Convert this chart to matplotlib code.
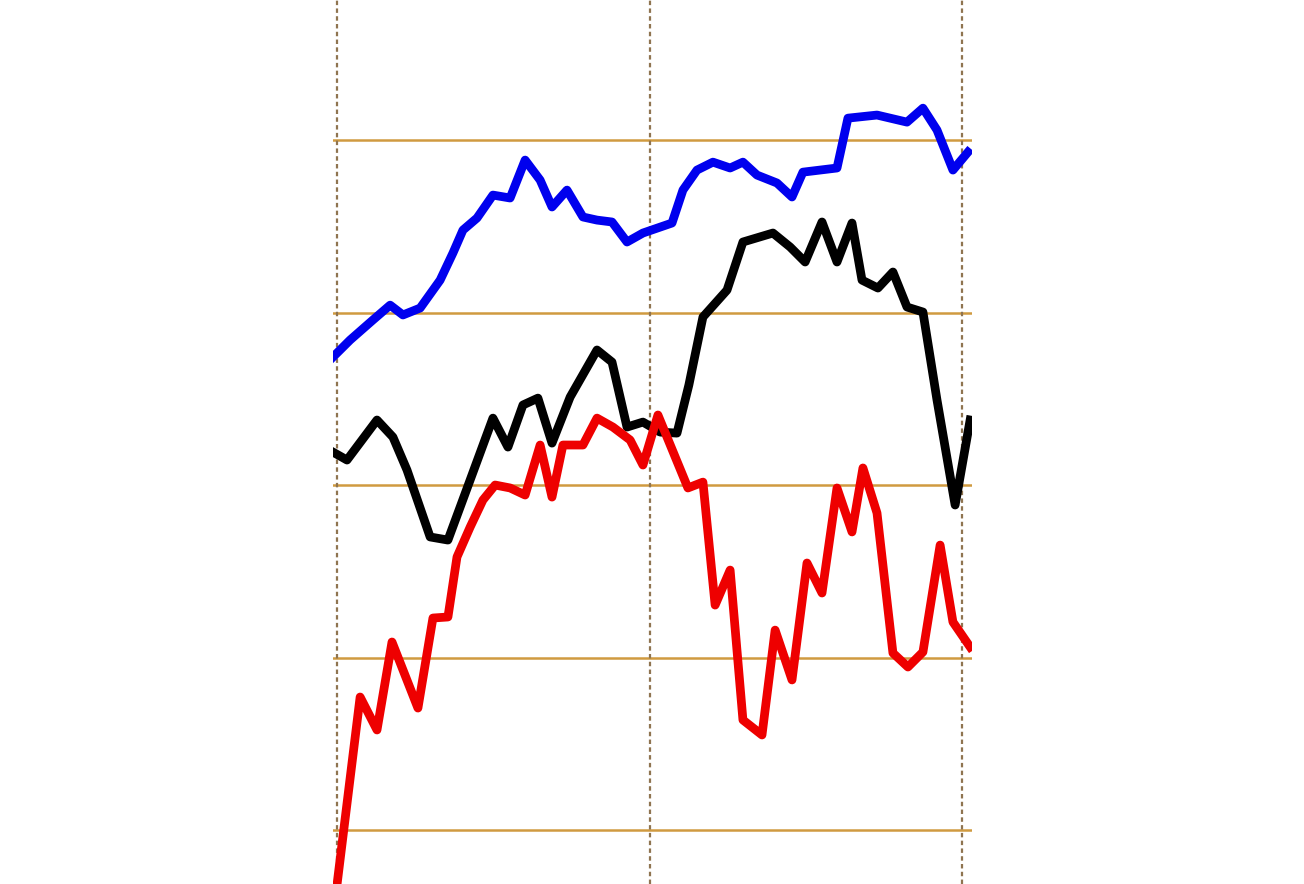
import matplotlib
matplotlib.use("Agg")
import matplotlib.pyplot as plt

# values (x: 0..200 between the dotted lines, y: 0..400 between the solid lines)
blue_x = [-1.3, 4.2, 11.5, 17.0, 21.1, 26.6, 33.0, 37.1, 40.3, 44.8, 49.9, 55.4, 60.2, 65.0,
          68.8, 73.6, 78.7, 83.2, 88.0, 92.8, 97.9, 107.2, 110.7, 115.2, 120.3, 125.8, 129.9,
          134.4, 140.8, 145.6, 149.1, 160.0, 163.5, 172.8, 182.4, 187.5, 192.0, 197.1, 201.9]
blue_y = [274.2, 284.1, 295.7, 304.3, 298.6, 302.6, 318.8, 334.5, 347.8, 354.8, 368.1, 366.4,
          388.4, 376.8, 361.2, 371.0, 355.4, 353.6, 352.5, 340.9, 346.1, 351.9, 371.0, 382.6,
          387.2, 383.8, 387.2, 379.7, 375.1, 367.0, 381.4, 383.8, 412.7, 414.5, 410.4, 418.5,
          405.8, 382.6, 393.0]

black_x = [-1.3, 3.2, 12.8, 17.9, 22.4, 29.8, 35.5, 42.6, 49.9, 54.7, 59.5, 64.3, 68.8, 74.6,
           83.2, 88.0, 92.8, 97.9, 103.4, 108.8, 112.6, 117.1, 124.8, 129.9, 139.5, 145.0,
           149.8, 155.2, 160.0, 164.8, 168.0, 173.1, 177.9, 182.4, 187.5, 192.0, 197.8, 202.6]
black_y = [219.1, 214.5, 237.7, 227.8, 208.7, 169.9, 168.1, 202.9, 238.8, 222.0, 246.4, 250.4,
           224.3, 251.0, 278.3, 271.3, 233.6, 236.5, 230.7, 230.1, 258.0, 297.4, 313.0, 340.9,
           346.1, 338.0, 329.3, 352.5, 329.3, 351.9, 318.8, 314.2, 323.5, 303.2, 300.3, 249.3,
           188.4, 237.7]

red_x = [-0.6, 7.4, 12.8, 17.6, 25.9, 30.7, 35.5, 38.4, 42.6, 46.7, 50.6, 55.4, 60.2, 65.0,
         68.8, 72.3, 78.7, 83.2, 88.3, 93.8, 97.9, 102.7, 112.3, 117.1, 121.0, 125.8, 129.9,
         136.0, 140.2, 145.6, 150.4, 155.2, 160.0, 164.8, 168.3, 172.8, 177.9, 182.7, 187.5,
         193.0, 197.1, 202.6]
red_y = [-40.6, 77.1, 58.0, 109.0, 70.7, 122.9, 123.5, 158.3, 175.6, 191.3, 200.0, 198.3,
         194.2, 223.2, 193.0, 223.2, 223.2, 238.8, 233.6, 226.1, 211.6, 240.6, 198.3, 201.7,
         130.4, 150.7, 63.8, 55.1, 115.9, 87.0, 154.8, 137.4, 198.3, 172.8, 209.9, 183.8,
         102.6, 94.5, 103.2, 165.2, 120.6, 106.1]

x_grid = [0, 100, 200]
y_grid = [0, 100, 200, 300, 400]

fig = plt.figure(figsize=(13.04, 8.84), dpi=100)
ax = fig.add_axes([333 / 1304, 0, (972 - 333) / 1304, 1])
ax.set_xlim(-1.28, 203.2)
ax.set_ylim(-31.3, 481.2)
ax.axis("off")

for y in y_grid:
    ax.axhline(y, color="#d09a40", linewidth=1.8, zorder=1)
for x in x_grid:
    ax.axvline(x, color="#8f7450", linewidth=1.6, linestyle=(0, (2, 1.5)), zorder=1)

ax.plot(blue_x, blue_y, color="#0000ee", linewidth=6.3, solid_joinstyle="round", zorder=3)
ax.plot(black_x, black_y, color="#000000", linewidth=6.3, solid_joinstyle="round", zorder=3)
ax.plot(red_x, red_y, color="#ee0000", linewidth=6.3, solid_joinstyle="round", zorder=4)

fig.savefig("out.png", dpi=100, facecolor="white")
